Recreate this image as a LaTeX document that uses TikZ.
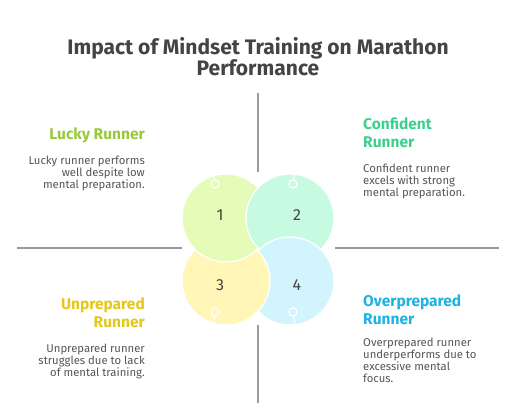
\documentclass[tikz,border=0pt]{standalone}
\usepackage{fontspec}
\setmainfont{Fira Sans}
\usetikzlibrary{positioning}

\definecolor{inkgray}{HTML}{444444}
\definecolor{textgray}{HTML}{555555}
\definecolor{rulegray}{HTML}{9A9A9A}
\definecolor{luckyfill}{HTML}{E5FBB8}
\definecolor{confidfill}{HTML}{C6FBE2}
\definecolor{unprepfill}{HTML}{FFF6B8}
\definecolor{overfill}{HTML}{D2F4FD}
\definecolor{luckyhead}{HTML}{97C93A}
\definecolor{confidhead}{HTML}{3DD08C}
\definecolor{unprephead}{HTML}{E3C81A}
\definecolor{overhead}{HTML}{1EB2E3}

\tikzset{
  bubble/.style={draw=white, line width=1.3pt},
  ring/.style={circle, draw=white, line width=1.1pt, minimum size=8pt, inner sep=0pt},
  divider/.style={rulegray, line width=1.4pt},
  heading/.style={font={\fontsize{15.5}{18}\selectfont\bfseries}, inner sep=0pt},
  desc/.style={font={\fontsize{11.3}{12}\selectfont}, text=textgray, inner sep=0pt},
  number/.style={font={\fontsize{16}{16}\selectfont}, text=inkgray}
}

\begin{document}
\begin{tikzpicture}[x=1pt,y=-1pt]
  \useasboundingbox (0,0) rectangle (516,408);

  % title
  \node[font={\fontsize{21}{21}\selectfont\bfseries}, text=inkgray, align=center] (title) at (258,57)
    {Impact of Mindset Training on Marathon\\Performance};

  % quadrant lines
  \draw[divider] (17,248) -- (182,248);
  \draw[divider] (335,248) -- (499,248);
  \draw[divider] (258,93) -- (258,172);
  \draw[divider] (258,325) -- (258,403);

  % circles, drawn round the cycle
  \fill[luckyfill] (226,218) circle[radius=44pt];
  \draw[bubble] (226,218) circle[radius=44pt];
  \fill[confidfill] (290,218) circle[radius=44pt];
  \draw[bubble] (290,218) circle[radius=44pt];
  \fill[overfill] (290,281) circle[radius=44pt];
  \draw[bubble] (290,281) circle[radius=44pt];
  \fill[unprepfill] (226,281) circle[radius=44pt];
  \draw[bubble] (226,281) circle[radius=44pt];
  \begin{scope}
    \clip (226,281) circle[radius=45.5pt];
    \fill[luckyfill] (226,218) circle[radius=44pt];
    \draw[bubble] (226,218) circle[radius=44pt];
  \end{scope}

  % rings
  \node[ring, fill=luckyfill] (r1) at (215,184) {};
  \node[ring, fill=confidfill] (r2) at (293,184) {};
  \node[ring, fill=unprepfill] (r3) at (215,312) {};
  \node[ring, fill=overfill] (r4) at (293,312) {};
  \coordinate (e1) at (213.6,174);
  \coordinate (e2) at (295,174);
  \coordinate (e3) at (213.6,325);
  \coordinate (e4) at (295,325);
  \draw[bubble, line width=1.1pt] (r1) -- (e1);
  \draw[bubble, line width=1.1pt] (r2) -- (e2);
  \draw[bubble, line width=1.1pt] (r3) -- (e3);
  \draw[bubble, line width=1.1pt] (r4) -- (e4);
  \node[ring, fill=luckyfill] at (r1) {};
  \node[ring, fill=confidfill] at (r2) {};
  \node[ring, fill=unprepfill] at (r3) {};
  \node[ring, fill=overfill] at (r4) {};

  % numbers
  \node[number] (n1) at (220,215) {1};
  \node[number] (n2) at (297,215) {2};
  \node[number] (n3) at (220,285) {3};
  \node[number] (n4) at (297,285) {4};

  % quadrant texts
  \node[heading, text=luckyhead, anchor=east] (lucky) at (145,135) {Lucky Runner};
  \node[desc, align=right, anchor=north east] (luckytxt) at (145,156)
    {Lucky runner performs\\well despite low\\mental preparation.};

  \node[heading, text=confidhead, align=left, anchor=north west] (confid) at (363,118)
    {Confident\\Runner};
  \node[desc, align=left, anchor=north west] (confidtxt) at (363,164)
    {Confident runner\\excels with strong\\mental preparation.};

  \node[heading, text=unprephead, align=right, anchor=north east] (unprep) at (145,298)
    {Unprepared\\Runner};
  \node[desc, align=right, anchor=north east] (unpreptxt) at (145,344)
    {Unprepared runner\\struggles due to lack\\of mental training.};

  \node[heading, text=overhead, align=left, anchor=north west] (over) at (363,295)
    {Overprepared\\Runner};
  \node[desc, align=left, anchor=north west] (overtxt) at (363,338)
    {Overprepared runner\\underperforms due to\\excessive mental\\focus.};
\end{tikzpicture}
\end{document}
